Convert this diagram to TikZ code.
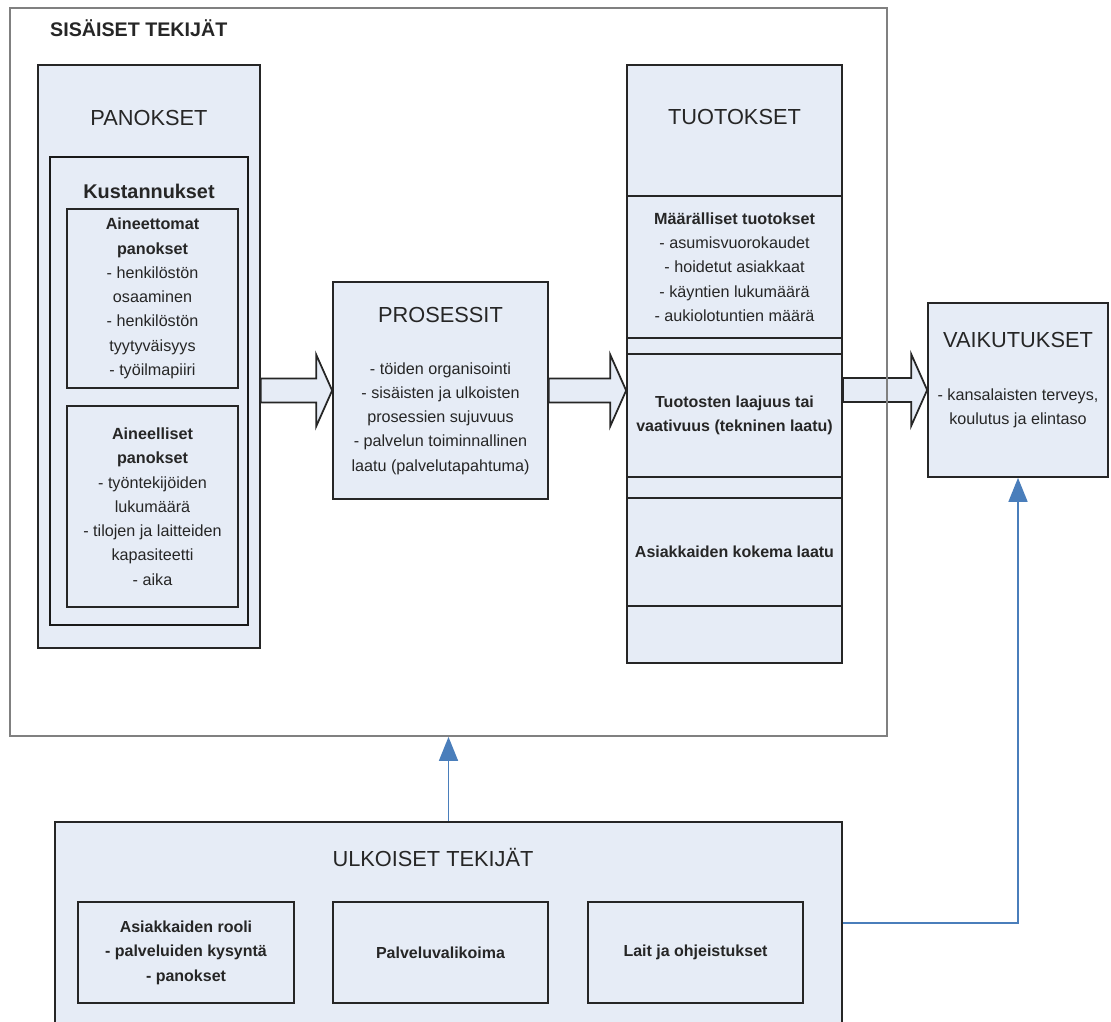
\documentclass[tikz,border=0pt]{standalone}
\usepackage{fontspec}
\setmainfont{Liberation Sans}
\usetikzlibrary{calc, arrows.meta}
\definecolor{boxfill}{HTML}{E6ECF6}
\definecolor{linkblue}{HTML}{4A7EBB}

\begin{document}
\begin{tikzpicture}[x=0.02cm, y=-0.02cm,
      box/.style={draw=black!85, line width=1pt, fill=boxfill, rectangle, inner sep=0pt},
      outerframe/.style={draw=black!50, line width=1.1pt, rectangle, inner sep=0pt},
      boxtitle/.style={font=\fontsize{12.4}{14}\selectfont, text=black!85},
      boxtext/.style={font=\fontsize{9.2}{13.8}\selectfont, text=black!85, align=center},
      boldtext/.style={font=\fontsize{9.1}{14}\selectfont\bfseries, text=black!85, align=center},
      bluelink/.style={draw=linkblue, line width=0.8pt, -{Triangle[length=13.6pt, width=10.8pt]}},
      bigarrow/.style={draw=black!85, line width=1pt, fill=boxfill,
        to path={let \p1=(\tikztostart), \p2=(\tikztotarget) in
          (\x1,\y2+0.24cm) -- (\x2-0.32cm,\y2+0.24cm) -- (\x2-0.32cm,\y2+0.72cm) -- (\x2,\y2)
          -- (\x2-0.32cm,\y2-0.72cm) -- (\x2-0.32cm,\y2-0.24cm) -- (\x1,\y2-0.24cm) -- cycle}}
    ]
    \useasboundingbox (0,0) rectangle (1111,1021);
    \clip (0,0) rectangle (1111,1021);

    % panokset
    \node[box, minimum width=4.44cm, minimum height=11.66cm] (panokset) at (149,356.5) {};
    \node[boxtitle] (panokset-t) at (149,118) {PANOKSET};
    \node[box, draw=black!90, minimum width=3.96cm, minimum height=9.36cm] (kustannukset) at (149,391) {};
    \node[font=\fontsize{11.3}{13}\selectfont\bfseries, text=black!85] (kustannukset-t) at (149,191) {Kustannukset};
    \node[box, boxtext, minimum width=3.42cm, minimum height=3.58cm] (aineettomat) at (152.5,298.5)
      {\textbf{Aineettomat}\\\textbf{panokset}\\- henkilöstön\\osaaminen\\- henkilöstön\\tyytyväisyys\\- työilmapiiri};
    \node[box, boxtext, minimum width=3.42cm, minimum height=4.02cm] (aineelliset) at (152.5,506.5)
      {\textbf{Aineelliset}\\\textbf{panokset}\\- työntekijöiden\\lukumäärä\\- tilojen ja laitteiden\\kapasiteetti\\- aika};

    % prosessit
    \node[box, minimum width=4.3cm, minimum height=4.34cm] (prosessit) at (440.5,390.5) {};
    \node[boxtitle] (prosessit-t) at (440.5,315) {PROSESSIT};
    \node[boxtext] (prosessit-x) at (440.5,418.5)
      {- töiden organisointi\\- sisäisten ja ulkoisten\\prosessien sujuvuus\\- palvelun toiminnallinen\\laatu (palvelutapahtuma)};

    % tuotokset
    \node[box, minimum width=4.3cm, minimum height=11.96cm] (tuotokset) at (734.5,364) {};
    \node[boxtitle] (tuotokset-t) at (734.5,117) {TUOTOKSET};
    \node[box, boxtext, minimum width=4.3cm, minimum height=2.84cm] (maaralliset) at (734.5,267)
      {\textbf{Määrälliset tuotokset}\\- asumisvuorokaudet\\- hoidetut asiakkaat\\- käyntien lukumäärä\\- aukiolotuntien määrä};
    \node[box, boldtext, minimum width=4.3cm, minimum height=2.46cm] (laajuus) at (734.5,415.5)
      {Tuotosten laajuus tai\\vaativuus (tekninen laatu)};
    \node[box, boldtext, minimum width=4.3cm, minimum height=2.16cm] (kokema) at (734.5,552)
      {Asiakkaiden kokema laatu};

    % vaikutukset
    \node[box, minimum width=3.6cm, minimum height=3.48cm] (vaikutukset) at (1018,390) {};
    \node[boxtitle] (vaikutukset-t) at (1018,340) {VAIKUTUKSET};
    \node[boxtext] (vaikutukset-x) at (1018,408.5) {- kansalaisten terveys,\\koulutus ja elintaso};

    % ulkoiset tekijat
    \node[box, minimum width=15.74cm, minimum height=4.04cm] (ulkoiset) at (448.5,923) {};
    \node[boxtitle] (ulkoiset-t) at (433,857) {ULKOISET TEKIJÄT};
    \node[box, boldtext, minimum width=4.32cm, minimum height=2.02cm] (rooli) at (186,952.5)
      {Asiakkaiden rooli\\- palveluiden kysyntä\\- panokset};
    \node[box, boldtext, minimum width=4.3cm, minimum height=2.02cm] (valikoima) at (440.5,952.5)
      {Palveluvalikoima};
    \node[box, boldtext, minimum width=4.3cm, minimum height=2.02cm] (lait) at (695.5,952.5)
      {Lait ja ohjeistukset};

    \draw[bigarrow] (panokset.east |- prosessit.west) to (prosessit.west);
    \draw[bigarrow] (prosessit.east) to (tuotokset.west |- prosessit.east);
    \draw[bigarrow] (tuotokset.east |- vaikutukset.west) to (vaikutukset.west);

    % sisaiset tekijat
    \node[outerframe, minimum width=17.54cm, minimum height=14.56cm] (sisaiset) at (448.5,372) {};
    \node[font=\fontsize{11.2}{13}\selectfont\bfseries, text=black!85, anchor=west] (sisaiset-t) at (44,28) {SISÄISET TEKIJÄT};

    \draw[bluelink] (ulkoiset.north) -- (sisaiset.south);
    \draw[bluelink] (ulkoiset.east) -| (vaikutukset.south);
  \end{tikzpicture}
\end{document}
